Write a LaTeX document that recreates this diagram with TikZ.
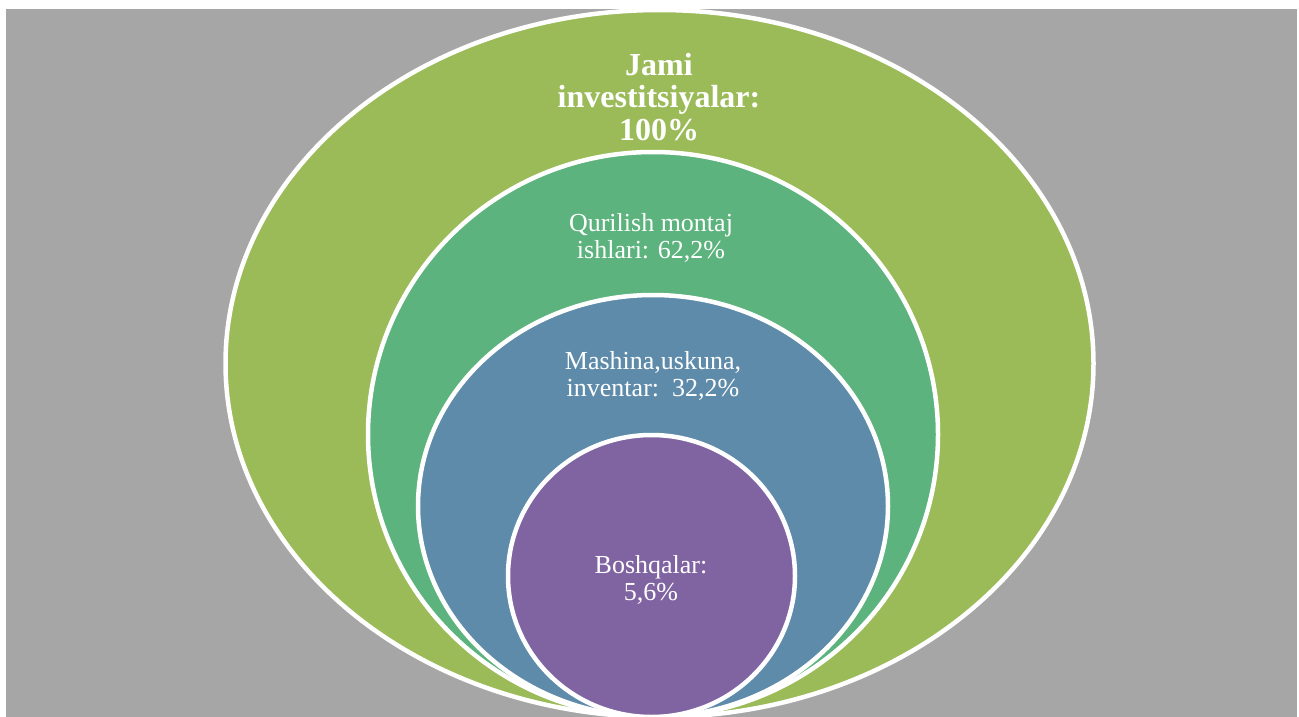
\documentclass[tikz,border=0pt]{standalone}
\usepackage{fontspec}
\setmainfont{Liberation Serif}
\usetikzlibrary{shapes.geometric}
\definecolor{bggray}{HTML}{A6A6A6}
\definecolor{cgreen}{HTML}{9BBB59}
\definecolor{cteal}{HTML}{5CB37D}
\definecolor{cblue}{HTML}{5F8BAB}
\definecolor{cpurple}{HTML}{8064A2}
\tikzset{
  ring/.style={ellipse, draw=white, line width=4.5pt, inner sep=0pt, outer sep=0pt},
  lbl/.style={text=white, align=center, font=\fontsize{26}{27}\selectfont},
  boldlbl/.style={text=white, align=center, font=\fontsize{32}{32.5}\selectfont\bfseries}
}
\begin{document}
\begin{tikzpicture}[x=1pt,y=-1pt]
\useasboundingbox (0,0) rectangle (1299,717);
\fill[white] (0,0) rectangle (1299,717);
\fill[bggray] (6,9) rectangle (1297,717);
\begin{scope}
\clip (0,0) rectangle (1299,717);
\node[ring, fill=cgreen, minimum width=868pt, minimum height=707pt] (e1) at (659.5,363.5) {};
\node[ring, fill=cteal, minimum width=570pt, minimum height=565pt] (e2) at (653,434.5) {};
\node[ring, fill=cblue, minimum width=470pt, minimum height=422pt] (e3) at (653,506) {};
\node[ring, fill=cpurple, minimum width=287pt, minimum height=282pt] (e4) at (651.5,576) {};
\end{scope}
\node[boldlbl] (t1) at (659,97) {Jami\\investitsiyalar:\\100\%};
\node[lbl] (t2) at (651,238) {Qurilish montaj\\ishlari: 62,2\%};
\node[lbl] (t3) at (653,376) {Mashina,uskuna,\\inventar:\ \ 32,2\%};
\node[lbl] (t4) at (651,580) {Boshqalar:\\5,6\%};
\end{tikzpicture}
\end{document}
